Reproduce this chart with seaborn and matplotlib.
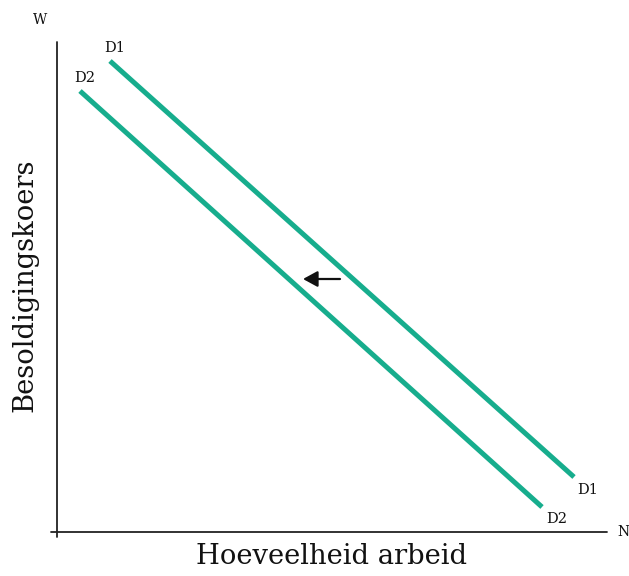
import matplotlib
matplotlib.use("Agg")
import matplotlib.pyplot as plt
import seaborn as sns
import pandas as pd

sns.set_style("white")
plt.rcParams['font.family'] = ['DejaVu Serif']

# Data (origin at axes intersection)
d1_x = [53, 517]
d1_y = [471, 55]
d2_x = [23, 485]
d2_y = [441, 25]
curve_labels = ["D1", "D2"]
arrow_start = (283, 253)
arrow_end = (246, 253)

color = "#17ad8d"

fig = plt.figure(figsize=(6.29, 5.76), dpi=100)
ax = fig.add_axes([0, 0, 1, 1])
ax.set_xlim(-57, 572)
ax.set_ylim(-44, 532)
ax.axis("off")

df = pd.DataFrame({
    "x": d1_x + d2_x,
    "y": d1_y + d2_y,
    "curve": [curve_labels[0]] * 2 + [curve_labels[1]] * 2,
})
sns.lineplot(data=df, x="x", y="y", hue="curve", palette=[color, color],
             linewidth=3.6, legend=False, ax=ax, solid_capstyle="butt")

# axes
ax.plot([-6, 550], [0, 0], color="#222222", lw=1.3)
ax.plot([0, 0], [-5, 490], color="#222222", lw=1.3)

ax.text(-17, 512, "W", fontsize=10, ha="center", va="center", color="#111111")
ax.text(566, 0, "N", fontsize=10, ha="center", va="center", color="#111111")

fs = 10.5
ax.text(58, 484, "D1", fontsize=fs, ha="center", va="center", color="#111111")
ax.text(28, 454, "D2", fontsize=fs, ha="center", va="center", color="#111111")
ax.text(531, 42, "D1", fontsize=fs, ha="center", va="center", color="#111111")
ax.text(500, 13, "D2", fontsize=fs, ha="center", va="center", color="#111111")

ax.annotate("", xy=arrow_end, xytext=arrow_start,
            arrowprops=dict(arrowstyle="-|>,head_length=0.55,head_width=0.3",
                            color="#111111", lw=1.6,
                            mutation_scale=16, shrinkA=0, shrinkB=0))

ax.text(275, -25, "Hoeveelheid arbeid", fontsize=19.7, ha="center", va="center",
        color="#111111")
ax.text(-32, 247, "Besoldigingskoers", fontsize=19.7, ha="center", va="center",
        rotation=90, color="#111111")

fig.savefig("out.png", dpi=100)
